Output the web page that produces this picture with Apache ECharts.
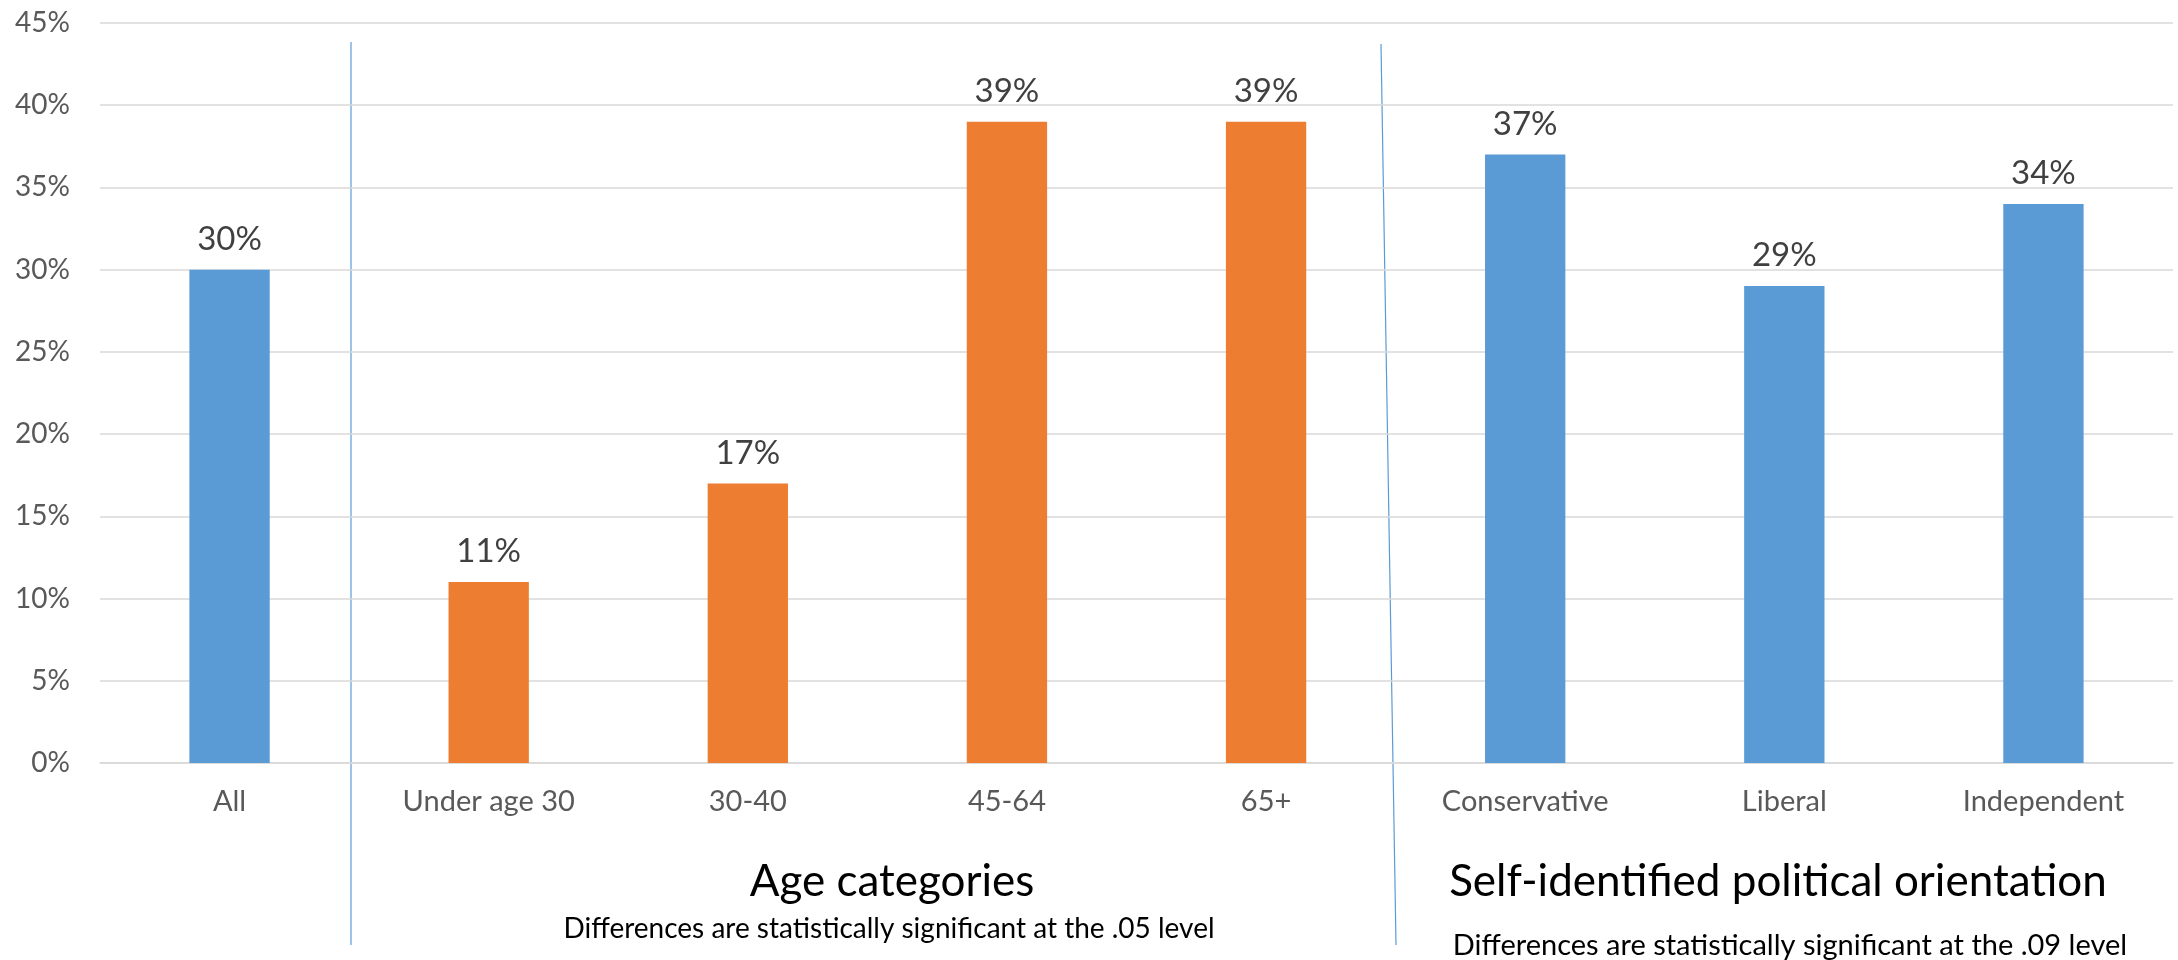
<!DOCTYPE html>
<html>
<head>
<meta charset="utf-8">
<script src="https://cdn.jsdelivr.net/npm/echarts@6/dist/echarts.min.js"></script>
<style>
html,body{margin:0;padding:0;background:#fff;}
#chart{width:2178px;height:960px;}
</style>
</head>
<body>
<div id="chart"></div>
<script>
const categories = ['All', 'Under age 30', '30-40', '45-64', '65+', 'Conservative', 'Liberal', 'Independent'];
const values = [30, 11, 17, 39, 39, 37, 29, 34];
const groupOf = ['overall', 'age', 'age', 'age', 'age', 'politics', 'politics', 'politics'];
const yTicks = { min: 0, max: 45, step: 5 };
const groupTitles = ['Age categories', 'Self-identified political orientation'];
const groupNotes = ['Differences are statistically significant at the .05 level', 'Differences are statistically significant at the .09 level'];

const groupColor = { overall: '#5B9BD5', age: '#ED7D31', politics: '#5B9BD5' };
const FONT = 'Lato, "Open Sans", sans-serif';

const chart = echarts.init(document.getElementById('chart'));
chart.setOption({
  animation: false,
  backgroundColor: '#ffffff',
  grid: { left: 100, right: 5, top: 23, bottom: 197, containLabel: false },
  xAxis: {
    type: 'category',
    data: categories,
    axisTick: { show: false },
    axisLine: { show: true, lineStyle: { color: '#D9D9D9', width: 1.5 } },
    axisLabel: { color: '#595959', fontSize: 29, fontFamily: FONT, margin: 24, interval: 0 }
  },
  yAxis: {
    type: 'value',
    min: yTicks.min, max: yTicks.max, interval: yTicks.step,
    axisLine: { show: false },
    axisTick: { show: false },
    axisLabel: { formatter: '{value}%', color: '#595959', fontSize: 28, fontFamily: FONT, margin: 30 },
    splitLine: { lineStyle: { color: '#D9D9D9', width: 1.5 } }
  },
  series: [{
    type: 'bar',
    barWidth: '31%',
    data: values.map((v, i) => ({ value: v, itemStyle: { color: groupColor[groupOf[i]] } })),
    label: { show: true, position: 'top', distance: 14, formatter: '{c}%', color: '#404040', fontSize: 33, fontFamily: FONT }
  }],
  graphic: [
    { type: 'line', shape: { x1: 351, y1: 42, x2: 351, y2: 945 }, style: { stroke: '#5B9BD5', lineWidth: 1.2 } },
    { type: 'line', shape: { x1: 1381, y1: 44, x2: 1396, y2: 945 }, style: { stroke: '#5B9BD5', lineWidth: 1.2 } },
    { type: 'text', x: 892, y: 882, style: { text: groupTitles[0], font: '44px ' + FONT, fill: '#000', textAlign: 'center', textVerticalAlign: 'middle' } },
    { type: 'text', x: 1778, y: 882, style: { text: groupTitles[1], font: '44px ' + FONT, fill: '#000', textAlign: 'center', textVerticalAlign: 'middle' } },
    { type: 'text', x: 889, y: 929, style: { text: groupNotes[0], font: '28px ' + FONT, fill: '#000', textAlign: 'center', textVerticalAlign: 'middle' } },
    { type: 'text', x: 1790, y: 946, style: { text: groupNotes[1], font: '29px ' + FONT, fill: '#000', textAlign: 'center', textVerticalAlign: 'middle' } }
  ]
});
</script>
</body>
</html>
